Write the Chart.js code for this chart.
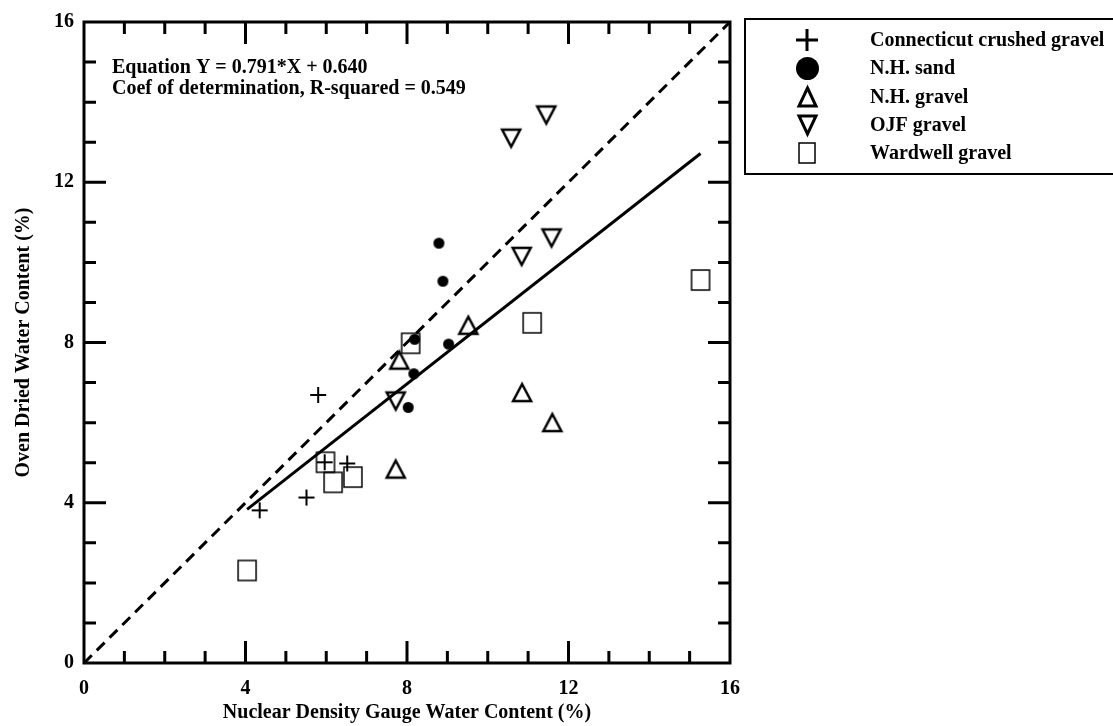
<!DOCTYPE html>
<html>
<head>
<meta charset="utf-8">
<script src="https://cdn.jsdelivr.net/npm/chart.js@4.4.1/dist/chart.umd.min.js"></script>
<style>
    html, body { margin: 0; padding: 0; background: #fff; }
</style>
</head>
<body>
<canvas id="grafico" width="1113" height="726"></canvas>
<script>
// ================================================
//  Umidade: densímetro nuclear x estufa
// ================================================

const NOMES_SERIES = ['Connecticut crushed gravel', 'N.H. sand', 'N.H. gravel', 'OJF gravel', 'Wardwell gravel'];

const connecticutX = [4.35, 5.51, 5.80, 5.96, 6.52];
const connecticutY = [3.81, 4.13, 6.69, 5.01, 4.98];

const nhSandX = [8.03, 8.17, 8.19, 8.79, 8.89, 9.03];
const nhSandY = [6.38, 7.22, 8.08, 10.48, 9.53, 7.96];

const nhGravelX = [7.72, 7.81, 9.52, 10.85, 11.60];
const nhGravelY = [4.84, 7.56, 8.43, 6.75, 6.00];

const ojfX = [7.72, 10.58, 10.84, 11.45, 11.58];
const ojfY = [6.54, 13.10, 10.15, 13.68, 10.61];

const wardwellX = [4.04, 5.98, 6.17, 6.66, 8.09, 11.10, 15.27];
const wardwellY = [2.31, 5.01, 4.51, 4.64, 7.98, 8.49, 9.56];

// regressão linear
const AJUSTE_A = 0.791;
const AJUSTE_B = 0.640;
const AJUSTE_R2 = 0.549;

const EIXO_MIN = 0;
const EIXO_MAX = 16;
const EIXO_PASSO = 4;

const FONTE = '"Liberation Serif", "Times New Roman", serif';

// ------------------------------------------------
// Desenha os símbolos num canvas próprio (pointStyle)
// ------------------------------------------------
function marcador(tipo, w, h, lw) {
    const pad = Math.ceil(lw) + 1;
    const c = document.createElement('canvas');
    c.width = w + 2 * pad;
    c.height = h + 2 * pad;
    const g = c.getContext('2d');
    g.strokeStyle = '#000';
    g.fillStyle = '#000';
    g.lineWidth = lw;
    g.lineJoin = 'miter';
    const x0 = pad, y0 = pad, cx = c.width / 2, cy = c.height / 2;
    g.beginPath();
    switch (tipo) {
        case 'cruz':
            g.moveTo(x0, cy); g.lineTo(x0 + w, cy);
            g.moveTo(cx, y0); g.lineTo(cx, y0 + h);
            g.stroke();
            break;
        case 'circulo':
            g.arc(cx, cy, w / 2, 0, Math.PI * 2);
            g.fill();
            break;
        case 'triCima':
            g.moveTo(cx, y0); g.lineTo(x0 + w, y0 + h); g.lineTo(x0, y0 + h);
            g.closePath(); g.stroke();
            break;
        case 'triBaixo':
            g.moveTo(x0, y0); g.lineTo(x0 + w, y0); g.lineTo(cx, y0 + h);
            g.closePath(); g.stroke();
            break;
        case 'retangulo':
            g.rect(x0, y0, w, h);
            g.stroke();
            break;
    }
    return c;
}

const SIMBOLOS = [
    { tipo: 'cruz',      ponto: [16, 16, 2],   legenda: [22, 22, 3] },
    { tipo: 'circulo',   ponto: [11, 11, 0],   legenda: [23, 23, 0] },
    { tipo: 'triCima',   ponto: [18, 17, 2.5], legenda: [17, 18, 3] },
    { tipo: 'triBaixo',  ponto: [18, 17, 2.5], legenda: [17, 18, 3] },
    { tipo: 'retangulo', ponto: [18, 20, 1.5], legenda: [16, 20, 1.5] }
];

const iconesPonto   = SIMBOLOS.map(s => marcador(s.tipo, ...s.ponto));
const iconesLegenda = SIMBOLOS.map(s => marcador(s.tipo, ...s.legenda));

const pares = (xs, ys) => xs.map((x, i) => ({ x, y: ys[i] }));

const seriesXY = [
    pares(connecticutX, connecticutY),
    pares(nhSandX, nhSandY),
    pares(nhGravelX, nhGravelY),
    pares(ojfX, ojfY),
    pares(wardwellX, wardwellY)
];

// reta ajustada no intervalo dos dados
const todosX = [].concat(connecticutX, nhSandX, nhGravelX, ojfX, wardwellX);
const xIni = Math.min(...todosX);
const xFim = Math.max(...todosX);
const retaAjuste = [xIni, xFim].map(x => ({ x, y: AJUSTE_A * x + AJUSTE_B }));
const retaIgualdade = [{ x: EIXO_MIN, y: EIXO_MIN }, { x: EIXO_MAX, y: EIXO_MAX }];

// ------------------------------------------------
// Moldura com ticks internos nos quatro lados
// ------------------------------------------------
const molduraPlugin = {
    id: 'moldura',
    afterDatasetsDraw(chart) {
        const { ctx, chartArea: a, scales: { x, y } } = chart;
        ctx.save();
        ctx.strokeStyle = '#000';
        ctx.lineWidth = 3;
        ctx.lineCap = 'butt';
        ctx.beginPath();
        for (let v = EIXO_MIN + 1; v < EIXO_MAX; v++) {
            const len = v % EIXO_PASSO === 0 ? 22 : 12;
            const px = x.getPixelForValue(v);
            const py = y.getPixelForValue(v);
            ctx.moveTo(px, a.bottom); ctx.lineTo(px, a.bottom - len);
            ctx.moveTo(px, a.top);    ctx.lineTo(px, a.top + len);
            ctx.moveTo(a.left, py);   ctx.lineTo(a.left + len, py);
            ctx.moveTo(a.right, py);  ctx.lineTo(a.right - len, py);
        }
        ctx.stroke();
        ctx.lineJoin = 'miter';
        ctx.strokeRect(a.left, a.top, a.right - a.left, a.bottom - a.top);

        // texto da equação
        ctx.fillStyle = '#000';
        ctx.font = `bold 20px ${FONTE}`;
        ctx.textAlign = 'left';
        ctx.textBaseline = 'middle';
        ctx.fillText(`Equation Y = ${AJUSTE_A.toFixed(3)}*X + ${AJUSTE_B.toFixed(3)}`, 112, 68);
        ctx.fillText(`Coef of determination, R-squared = ${AJUSTE_R2.toFixed(3)}`, 112, 89);
        ctx.restore();
    }
};

// ------------------------------------------------
// Legenda em caixa à direita
// ------------------------------------------------
const legendaPlugin = {
    id: 'legendaCaixa',
    afterDraw(chart) {
        const ctx = chart.ctx;
        ctx.save();
        ctx.strokeStyle = '#000';
        ctx.lineWidth = 2;
        ctx.strokeRect(745, 19, 420, 155);
        ctx.fillStyle = '#000';
        ctx.font = `bold 20px ${FONTE}`;
        ctx.textAlign = 'left';
        ctx.textBaseline = 'middle';
        NOMES_SERIES.forEach((nome, i) => {
            const yl = 40 + i * 28.25;
            const ic = iconesLegenda[i];
            ctx.drawImage(ic, Math.round(807 - ic.width / 2), Math.round(yl - ic.height / 2));
            ctx.fillText(nome, 870, yl + 1);
        });
        ctx.restore();
    }
};

const fonteEixo = { family: FONTE, size: 20, weight: 'bold' };

const datasets = NOMES_SERIES.map((nome, i) => ({
    type: 'scatter',
    label: nome,
    data: seriesXY[i],
    pointStyle: iconesPonto[i],
    pointRadius: 9,
    pointHoverRadius: 9
}));

datasets.push({
    type: 'line',
    label: 'ajuste',
    data: retaAjuste,
    borderColor: '#000',
    borderWidth: 3,
    pointRadius: 0,
    fill: false
});
datasets.push({
    type: 'line',
    label: '1:1',
    data: retaIgualdade,
    borderColor: '#000',
    borderWidth: 3,
    borderDash: [11, 7],
    pointRadius: 0,
    fill: false
});

new Chart(document.getElementById('grafico').getContext('2d'), {
    type: 'scatter',
    data: { datasets },
    options: {
        responsive: false,
        animation: false,
        devicePixelRatio: 1,
        layout: { padding: { left: 0, top: 20, right: 383, bottom: 0 } },
        plugins: {
            legend: { display: false },
            tooltip: { enabled: false }
        },
        scales: {
            x: {
                type: 'linear',
                min: EIXO_MIN, max: EIXO_MAX,
                afterFit: s => { s.height = 63; },
                grid: { display: false, drawTicks: false },
                border: { display: false },
                ticks: { stepSize: EIXO_PASSO, color: '#000', font: fonteEixo, padding: 14 },
                title: {
                    display: true,
                    text: 'Nuclear Density Gauge Water Content (%)',
                    color: '#000',
                    font: fonteEixo,
                    padding: { top: 1, bottom: 1 }
                }
            },
            y: {
                type: 'linear',
                min: EIXO_MIN, max: EIXO_MAX,
                afterFit: s => { s.width = 84; },
                grid: { display: false, drawTicks: false },
                border: { display: false },
                ticks: { stepSize: EIXO_PASSO, color: '#000', font: fonteEixo, padding: 10 },
                title: {
                    display: true,
                    text: 'Oven Dried Water Content (%)',
                    color: '#000',
                    font: fonteEixo,
                    padding: { top: 12, bottom: 12 }
                }
            }
        }
    },
    plugins: [molduraPlugin, legendaPlugin]
});
</script>
</body>
</html>
